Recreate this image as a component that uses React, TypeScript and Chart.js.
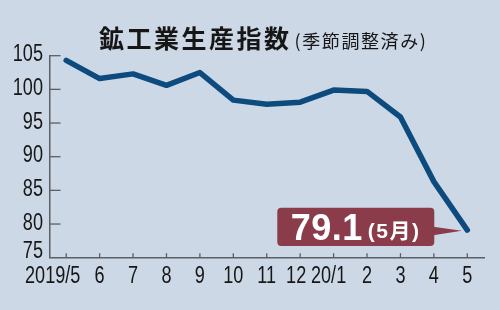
import React, { useEffect, useRef } from "react";
import { Chart, registerables } from "chart.js";

Chart.register(...registerables);

// ---- data ----
const categories = ["2019/5", "6", "7", "8", "9", "10", "11", "12", "20/1", "2", "3", "4", "5"];
const values = [104.3, 101.6, 102.3, 100.6, 102.5, 98.4, 97.8, 98.1, 99.9, 99.7, 95.9, 86.3, 79.1];
const yTicks = [75, 80, 85, 90, 95, 100, 105];
const titleMain = "鉱工業生産指数";
const titleSub = "(季節調整済み)";
const calloutValue = "79.1";
const calloutMonth = "(5月)";

// ---- style ----
const BG = "#cdd8e6";
const AXIS = "#5a5f66";
const TEXT = "#161616";
const LINE = "#0d4a7e";
const BOX = "#8b3c4b";
const NUM_FONT = '"Liberation Sans", Arial';
const CJK_FONT = '"Noto Sans CJK JP", "Noto Sans CJK SC", sans-serif';
const X_LABEL_SHIFT: Record<number, number> = { 0: -13.5, 7: -4, 8: -5 };

function condensedText(ctx: CanvasRenderingContext2D, text: string, x: number, y: number, align: "left" | "right" | "center", scaleX = 0.77) {
  ctx.save();
  ctx.translate(x, y);
  ctx.scale(scaleX, 1);
  ctx.textAlign = align;
  ctx.fillText(text, 0, 0);
  ctx.restore();
}

const decorPlugin = {
  id: "decor",
  beforeDraw(chart: any) {
    const ctx: CanvasRenderingContext2D = chart.ctx;
    ctx.save();
    ctx.fillStyle = BG;
    ctx.fillRect(0, 0, chart.width, chart.height);

    // title
    ctx.fillStyle = TEXT;
    ctx.textBaseline = "alphabetic";
    ctx.textAlign = "left";
    ctx.font = `700 25px ${CJK_FONT}`;
    (ctx as any).letterSpacing = "2.5px";
    ctx.fillText(titleMain, 99, 48);
    const w = ctx.measureText(titleMain).width;
    ctx.font = `400 18px ${CJK_FONT}`;
    (ctx as any).letterSpacing = "1.6px";
    ctx.fillText(titleSub, 99 + w + 3, 48);
    (ctx as any).letterSpacing = "0px";
    ctx.restore();
  },
  afterDraw(chart: any) {
    const ctx: CanvasRenderingContext2D = chart.ctx;
    const xs = chart.scales.x;
    const ys = chart.scales.y;
    const area = chart.chartArea;
    ctx.save();
    // y ticks (inside) + labels
    ctx.strokeStyle = AXIS;
    ctx.lineWidth = 1.3;
    ctx.fillStyle = TEXT;
    ctx.font = `400 23.5px ${NUM_FONT}, sans-serif`;
    ctx.textBaseline = "middle";
    yTicks.forEach((v) => {
      const py = ys.getPixelForValue(v);
      if (v !== yTicks[0]) {
        ctx.beginPath();
        ctx.moveTo(area.left, py);
        ctx.lineTo(area.left + 11, py);
        ctx.stroke();
      }
      const ly = v === yTicks[0] ? py - 6.5 : py - 1;
      condensedText(ctx, String(v), 43, ly, "right");
    });
    // x ticks (inside, upward) + labels
    categories.forEach((c, i) => {
      const px = xs.getPixelForValue(i);
      ctx.beginPath();
      ctx.moveTo(px, area.bottom);
      ctx.lineTo(px, area.bottom - 4.5);
      ctx.stroke();
      condensedText(ctx, c, px + (X_LABEL_SHIFT[i] || 0), 276.5, "center");
    });

    // callout box pointing at the last point
    const meta = chart.getDatasetMeta(0);
    const last = meta.data[meta.data.length - 1];
    const tipX = last.x - 5.5;
    const tipY = last.y + 0.7;
    const right = last.x - 33;
    const left = right - 157;
    const top = last.y - 22.3;
    const bottom = last.y + 16;
    ctx.fillStyle = BOX;
    ctx.beginPath();
    ctx.roundRect(left, top, right - left, bottom - top, 4);
    ctx.fill();
    ctx.beginPath();
    ctx.moveTo(right - 1, tipY - 4);
    ctx.lineTo(tipX, tipY);
    ctx.lineTo(right - 1, tipY + 4.5);
    ctx.closePath();
    ctx.fill();

    ctx.fillStyle = "#ffffff";
    ctx.textBaseline = "alphabetic";
    ctx.textAlign = "left";
    ctx.font = `700 36px ${NUM_FONT}, sans-serif`;
    (ctx as any).letterSpacing = "0.5px";
    ctx.fillText(calloutValue, left + 13.5, bottom - 6);
    const vw = ctx.measureText(calloutValue).width;
    ctx.font = `700 21px ${NUM_FONT}, ${CJK_FONT}`;
    (ctx as any).letterSpacing = "1.5px";
    ctx.fillText(calloutMonth, left + 13.5 + vw + 5, bottom - 8);
    (ctx as any).letterSpacing = "0px";
    ctx.restore();
  },
};

export default function App() {
  const ref = useRef<HTMLCanvasElement | null>(null);
  useEffect(() => {
    if (!ref.current) return;
    const chart = new Chart(ref.current, {
      type: "line",
      data: {
        labels: categories,
        datasets: [
          {
            data: values,
            borderColor: LINE,
            borderWidth: 5.5,
            borderJoinStyle: "round",
            borderCapStyle: "round",
            pointRadius: 0,
            tension: 0,
            fill: false,
          },
        ],
      },
      options: {
        responsive: false,
        animation: false,
        devicePixelRatio: 1,
        layout: { padding: { top: 55.7, right: 16, bottom: 0, left: 0 } },
        plugins: { legend: { display: false }, tooltip: { enabled: false }, title: { display: false } },
        scales: {
          x: {
            type: "category",
            offset: true,
            grid: { display: false },
            border: { display: true, color: AXIS, width: 1.5 },
            ticks: { display: false },
            afterFit: (s: any) => {
              s.height = 52.3;
            },
          },
          y: {
            min: 75,
            max: 105,
            grid: { display: false },
            border: { display: true, color: AXIS, width: 1.5 },
            ticks: { display: false, stepSize: 5 },
            afterFit: (s: any) => {
              s.width = 49.5;
            },
          },
        },
      },
      plugins: [decorPlugin],
    } as any);
    return () => chart.destroy();
  }, []);
  return (
    <div style={{ position: "absolute", left: 0, top: 0, width: 500, height: 310 }}>
      <canvas ref={ref} width={500} height={310} style={{ display: "block", width: 500, height: 310 }} />
    </div>
  );
}
